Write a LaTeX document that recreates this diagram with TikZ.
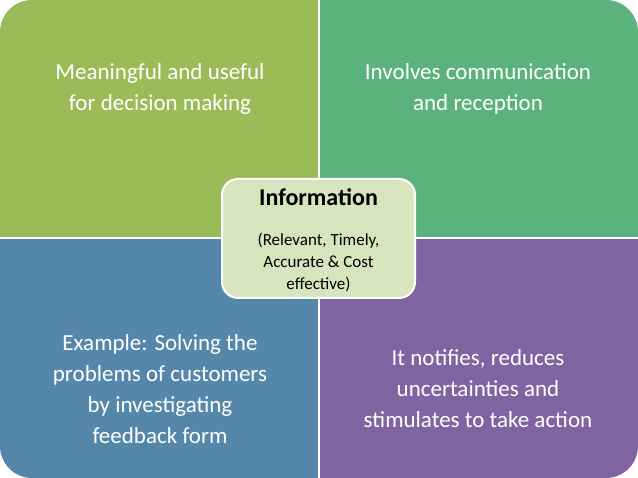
\documentclass[tikz,border=0pt]{standalone}
\usepackage{fontspec}
\setmainfont{Carlito}
\definecolor{qtl}{RGB}{155,187,89}
\definecolor{qtr}{RGB}{91,178,124}
\definecolor{qbl}{RGB}{84,135,170}
\definecolor{qbr}{RGB}{128,100,162}
\definecolor{cbox}{RGB}{215,228,189}
\begin{document}
\begin{tikzpicture}[x=1pt,y=1pt,
  qtext/.style={text=white,align=center,font=\fontsize{23}{31}\selectfont},
  ctext/.style={text=black,align=center,font=\fontsize{17}{22}\selectfont}]
\useasboundingbox (0,0) rectangle (638,478);
\begin{scope}
\clip[rounded corners=32pt] (0,0) rectangle (638,478);
\fill[qtl] (0,240) rectangle (319,478);
\fill[qtr] (319,240) rectangle (638,478);
\fill[qbl] (0,0) rectangle (319,240);
\fill[qbr] (319,0) rectangle (638,240);
\draw[white,line width=2pt] (319,0) -- (319,478) (0,240) -- (638,240);
\end{scope}
\node[qtext] (tl) at (160,389) {Meaningful and useful\\for decision making};
\node[qtext] (tr) at (478,389) {Involves communication\\and reception};
\node[qtext] (bl) at (160,89) {Example:  Solving the\\problems of customers\\by investigating\\feedback form};
\node[qtext] (br) at (478,89) {It notifies, reduces\\uncertainties  and\\stimulates to take action};
\draw[white,line width=2pt,fill=cbox,rounded corners=16pt] (222,180) rectangle (415,299);
\node[font=\fontsize{24}{28}\selectfont\bfseries] (ci) at (318.5,281) {Information};
\node[ctext] (cs) at (318.5,216) {(Relevant, Timely,\\Accurate \& Cost\\effective)};
\end{tikzpicture}
\end{document}
